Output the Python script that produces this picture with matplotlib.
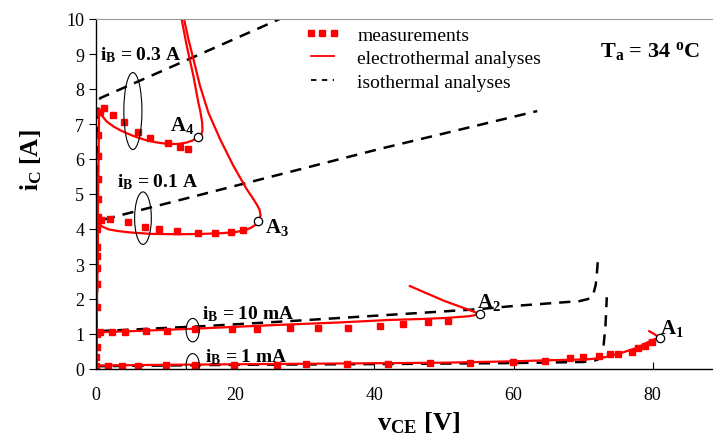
import numpy as np
import matplotlib
matplotlib.use('Agg')
from matplotlib import pyplot as plt
from matplotlib.lines import Line2D
from matplotlib.patches import Ellipse

plt.rcParams['font.family'] = 'Liberation Serif'
plt.rcParams['mathtext.fontset'] = 'custom'
plt.rcParams['mathtext.rm'] = 'Liberation Serif'
plt.rcParams['mathtext.bf'] = 'Liberation Serif:bold'
plt.rcParams['mathtext.it'] = 'Liberation Serif:italic'

# --- measurements (vCE [V], iC [A]) ---
meas_sat_v = [0.05, 0.1, 0.1, 0.15, 0.15, 0.2, 0.2, 0.2, 0.2, 0.25, 0.25, 0.3, 0.3, 0.35, 0.4]
meas_sat_i = [0.33, 0.62, 1.0, 1.77, 2.43, 2.9, 3.24, 3.48, 4.0, 4.33, 4.86, 5.43, 6.1, 6.7, 7.33]

meas_03_v = [0.6, 1.1, 2.4, 4.0, 6.0, 7.8, 10.3, 12.1, 13.2]
meas_03_i = [7.34, 7.46, 7.26, 7.06, 6.77, 6.6, 6.46, 6.34, 6.29]

meas_01_v = [0.7, 2.0, 4.6, 7.0, 9.1, 11.6, 14.7, 17.1, 19.4, 21.1]
meas_01_i = [4.26, 4.29, 4.2, 4.06, 4.0, 3.95, 3.89, 3.89, 3.92, 3.97]

meas_10m_v = [0.0, 0.6, 2.3, 4.2, 7.2, 10.2, 14.2, 19.5, 23.1, 27.9, 31.9, 36.2, 40.8, 44.1, 47.7, 50.6]
meas_10m_i = [1.03, 1.05, 1.06, 1.07, 1.08, 1.09, 1.14, 1.14, 1.14, 1.17, 1.17, 1.17, 1.22, 1.29, 1.33, 1.38]

meas_1m_v = [0.0, 1.7, 3.7, 6.1, 10.0, 14.2, 19.8, 26.0, 30.2, 36.0, 42.0, 48.0, 53.7, 59.9,
             64.5, 68.1, 70.0, 72.3, 73.9, 75.0, 77.0, 77.9, 78.9, 79.9]
meas_1m_i = [0.09, 0.09, 0.09, 0.09, 0.11, 0.11, 0.11, 0.11, 0.14, 0.14, 0.14, 0.17, 0.17, 0.2,
             0.23, 0.31, 0.34, 0.37, 0.43, 0.43, 0.49, 0.6, 0.66, 0.77]

# --- electrothermal analyses ---
et_03_v = [0.0, 0.45, 0.8, 1.5, 2.5, 3.5, 4.5, 5.6, 7.0, 8.5, 10.3, 11.8, 13.0, 13.9, 14.7,
           15.1, 15.3, 15.25, 15.0, 14.7, 13.99, 13.03, 12.3]
et_03_i = [0.0, 7.4, 7.25, 7.08, 6.93, 6.82, 6.73, 6.64, 6.55, 6.48, 6.43, 6.43, 6.47, 6.53, 6.63,
           6.68, 6.82, 7.05, 7.35, 7.62, 8.38, 9.24, 10.0]

et_01_v = [0.0, 0.3, 0.8, 1.8, 3.2, 5.0, 8.0, 12.0, 15.2, 18.0, 20.0, 21.5, 22.4, 23.0, 23.3,
           23.65, 23.5, 23.1, 22.4, 21.65, 19.73, 17.82, 16.14, 14.94, 13.99, 13.27, 12.65]
et_01_i = [0.0, 4.2, 4.08, 3.99, 3.94, 3.9, 3.86, 3.85, 3.86, 3.88, 3.91, 3.97, 4.05, 4.13, 4.22,
           4.38, 4.55, 4.7, 4.92, 5.14, 5.81, 6.57, 7.33, 8.09, 8.86, 9.43, 10.0]

et_10m_v = [0.0, 0.1, 0.5, 5.0, 14.0, 25.0, 35.0, 42.0, 47.0, 50.4, 53.7, 55.2, 50.0, 45.1]
et_10m_i = [0.0, 1.0, 1.05, 1.08, 1.15, 1.25, 1.33, 1.4, 1.43, 1.46, 1.51, 1.57, 1.95, 2.37]

et_1m_v = [0.0, 0.1, 10.0, 30.0, 50.0, 60.0, 65.0, 70.0, 72.0, 73.2, 74.3, 75.5, 77.2, 78.5, 79.6,
           80.4, 81.0, 80.2, 79.5]
et_1m_i = [0.0, 0.1, 0.12, 0.15, 0.18, 0.22, 0.25, 0.27, 0.3, 0.34, 0.4, 0.46, 0.57, 0.68, 0.8,
           0.86, 0.89, 1.0, 1.08]

# --- isothermal analyses ---
iso_03_v = [0.0, 0.35, 0.6, 9.2, 26.4]
iso_03_i = [0.0, 7.45, 7.74, 8.49, 10.0]

iso_01_v = [0.0, 0.3, 40.8, 63.4]
iso_01_i = [0.0, 4.23, 6.29, 7.37]

iso_10m_v = [0.0, 0.1, 0.3, 16.0, 28.0, 44.0, 55.0, 60.0, 69.5, 70.7, 71.4, 71.8, 72.0, 72.1]
iso_10m_i = [0.0, 1.05, 1.08, 1.23, 1.37, 1.57, 1.71, 1.8, 1.94, 2.0, 2.09, 2.4, 2.8, 3.06]

iso_1m_v = [0.0, 0.1, 20.0, 40.0, 60.0, 70.0, 71.3, 72.1, 72.6, 72.9, 73.2, 73.4]
iso_1m_i = [0.0, 0.08, 0.12, 0.14, 0.17, 0.2, 0.22, 0.27, 0.4, 0.6, 1.2, 2.05]

# points A1..A4
pts_name = ['A$_\\mathbf{1}$', 'A$_\\mathbf{2}$', 'A$_\\mathbf{3}$', 'A$_\\mathbf{4}$']
pts_v = [81.0, 55.2, 23.3, 14.7]
pts_i = [0.89, 1.57, 4.22, 6.63]

fig = plt.figure(figsize=(7.13, 4.39), dpi=100)
ax = fig.add_axes([96 / 713, 69 / 439, 617 / 713, 350 / 439])

dash = dict(color='black', lw=1.8, dashes=(4.5, 3.2))
for v, i in [(iso_03_v, iso_03_i), (iso_01_v, iso_01_i), (iso_10m_v, iso_10m_i), (iso_1m_v, iso_1m_i)]:
    ax.plot(v, i, **dash)

for v, i in [(et_03_v, et_03_i), (et_01_v, et_01_i), (et_10m_v, et_10m_i), (et_1m_v, et_1m_i)]:
    ax.plot(v, i, color='red', lw=1.6, solid_joinstyle='round')

for v, i in [(meas_sat_v, meas_sat_i), (meas_03_v, meas_03_i), (meas_01_v, meas_01_i),
             (meas_10m_v, meas_10m_i), (meas_1m_v, meas_1m_i)]:
    ax.plot(v, i, ls='none', marker='s', ms=4.6, color='red', mec='red')

ax.plot(pts_v, pts_i, ls='none', marker='o', ms=6, mfc='white', mec='black', mew=0.9, zorder=5)

# ellipses marking each curve
for xc, yc, w, h in [(5.3, 7.37, 2.6, 2.2), (6.75, 4.31, 2.4, 1.5), (13.9, 1.11, 1.9, 0.67), (13.9, 0.11, 1.9, 0.66)]:
    ax.add_patch(Ellipse((xc, yc), w, h, fill=False, ec='black', lw=0.8, zorder=6))

bold = dict(fontweight='bold', fontsize=14, va='center')
ax.text(0.6, 9.0, 'i$_\\mathbf{B}$ = 0.3 A', **bold)
ax.text(3.0, 5.37, 'i$_\\mathbf{B}$ = 0.1 A', **bold)
ax.text(15.2, 1.6, 'i$_\\mathbf{B}$ = 10 mA', **bold)
ax.text(15.7, 0.36, 'i$_\\mathbf{B}$ = 1 mA', **bold)
ax.text(72.4, 9.09, 'T$_\\mathbf{a}$ = 34 $^\\mathbf{o}$C', fontweight='bold', fontsize=16, va='center')

lab_off = [(0.1, 0.3), (-0.4, 0.35), (1.0, -0.15), (-4.1, 0.35)]
for name, v, i, (dx, dy) in zip(pts_name, pts_v, pts_i, lab_off):
    ax.text(v + dx, i + dy, name, fontweight='bold', fontsize=15, va='center')

handles = [Line2D([], [], ls='none', marker='s', ms=4.6, color='red'),
           Line2D([], [], color='red', lw=1.3),
           Line2D([], [], color='black', lw=1.3, dashes=(3, 3))]
ax.legend(handles, ['measurements', 'electrothermal analyses', 'isothermal analyses'],
          loc='upper left', bbox_to_anchor=(0.31, 1.03), frameon=False, fontsize=14,
          numpoints=3, handlelength=1.8, labelspacing=0.3, handletextpad=0.9)

ax.set_xlim(0, 88.66)
ax.set_ylim(0, 10)
ax.set_xticks([0, 20, 40, 60, 80])
ax.set_yticks(np.arange(0, 11, 1))
ax.tick_params(axis='x', direction='in', length=5, labelsize=13, pad=12)
ax.tick_params(axis='y', direction='out', length=5, labelsize=13)
ax.spines['right'].set_visible(False)
ax.spines['top'].set_color('#999999')
ax.spines['top'].set_linewidth(0.8)
ax.spines['left'].set_linewidth(1.0)
ax.spines['bottom'].set_linewidth(1.0)

ax.set_xlabel('v$_\\mathbf{CE}$ [V]', fontweight='bold', fontsize=19)
ax.set_ylabel('i$_\\mathbf{C}$ [A]', fontweight='bold', fontsize=18)
ax.yaxis.set_label_coords(-0.084, 0.6)
ax.xaxis.set_label_coords(0.522, -0.115)

fig.savefig('out.png', dpi=100)
